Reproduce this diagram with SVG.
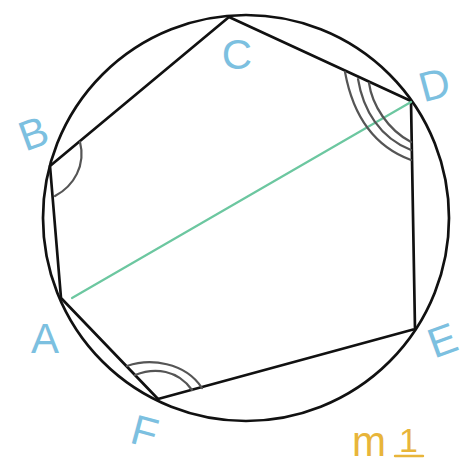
<svg xmlns="http://www.w3.org/2000/svg" width="474" height="466" viewBox="0 0 474 466">
<style>
.ln{fill:none;stroke:#111;stroke-width:2.7;stroke-linejoin:round;stroke-linecap:round}
.arc{fill:none;stroke:#555;stroke-width:2.2;stroke-linecap:round}
.lbl{font-family:"Liberation Sans",Arial,sans-serif;font-size:42px;fill:#7cc0e0;text-anchor:middle}
.m{font-family:"Liberation Sans",Arial,sans-serif;fill:#e8b53a}
</style>
<rect width="474" height="466" fill="#ffffff"/>
<g id="circle"><circle class="ln" cx="246" cy="218" r="203"/></g>
<g id="hexagon"><polygon class="ln" points="61,298 50,166 229,17 411,101 415,329 158,399"/></g>
<g id="connectors">
<line x1="72" y1="298" x2="411" y2="102" stroke="#6cc7a0" stroke-width="2.2" stroke-linecap="round"/>
</g>
<g id="angle-B"><path class="arc" d="M80,142 C86,165 74,186 55,196"/></g>
<g id="angle-D">
<path class="arc" d="M345,72 C352,110 370,145 411,160"/>
<path class="arc" d="M358,79 C363,110 380,138 411,150"/>
<path class="arc" d="M369,83 C372,105 388,130 411,142"/>
</g>
<g id="angle-F">
<path class="arc" d="M127,366 C150,358 185,362 202,388"/>
<path class="arc" d="M135,375 C155,367 178,370 192,390"/>
</g>
<g id="label-A"><text class="lbl" x="45" y="353">A</text></g>
<g id="label-B"><text class="lbl" x="33" y="148" transform="rotate(-20 33 132)">B</text></g>
<g id="label-C"><text class="lbl" x="237" y="69">C</text></g>
<g id="label-D"><text class="lbl" x="434" y="99" transform="rotate(-15 434 83)">D</text></g>
<g id="label-E"><text class="lbl" x="442" y="355" transform="rotate(-20 442 339)">E</text></g>
<g id="label-F"><text class="lbl" x="145" y="446" transform="rotate(15 145 430)">F</text></g>
<g id="label-m1">
<text class="m" x="352" y="456" font-size="42" textLength="34" lengthAdjust="spacingAndGlyphs">m</text>
<text class="m" x="399" y="452" font-size="34">1</text>
<line x1="395" y1="456" x2="423" y2="456" stroke="#e8b53a" stroke-width="2.4" stroke-linecap="round"/>
</g>
</svg>
